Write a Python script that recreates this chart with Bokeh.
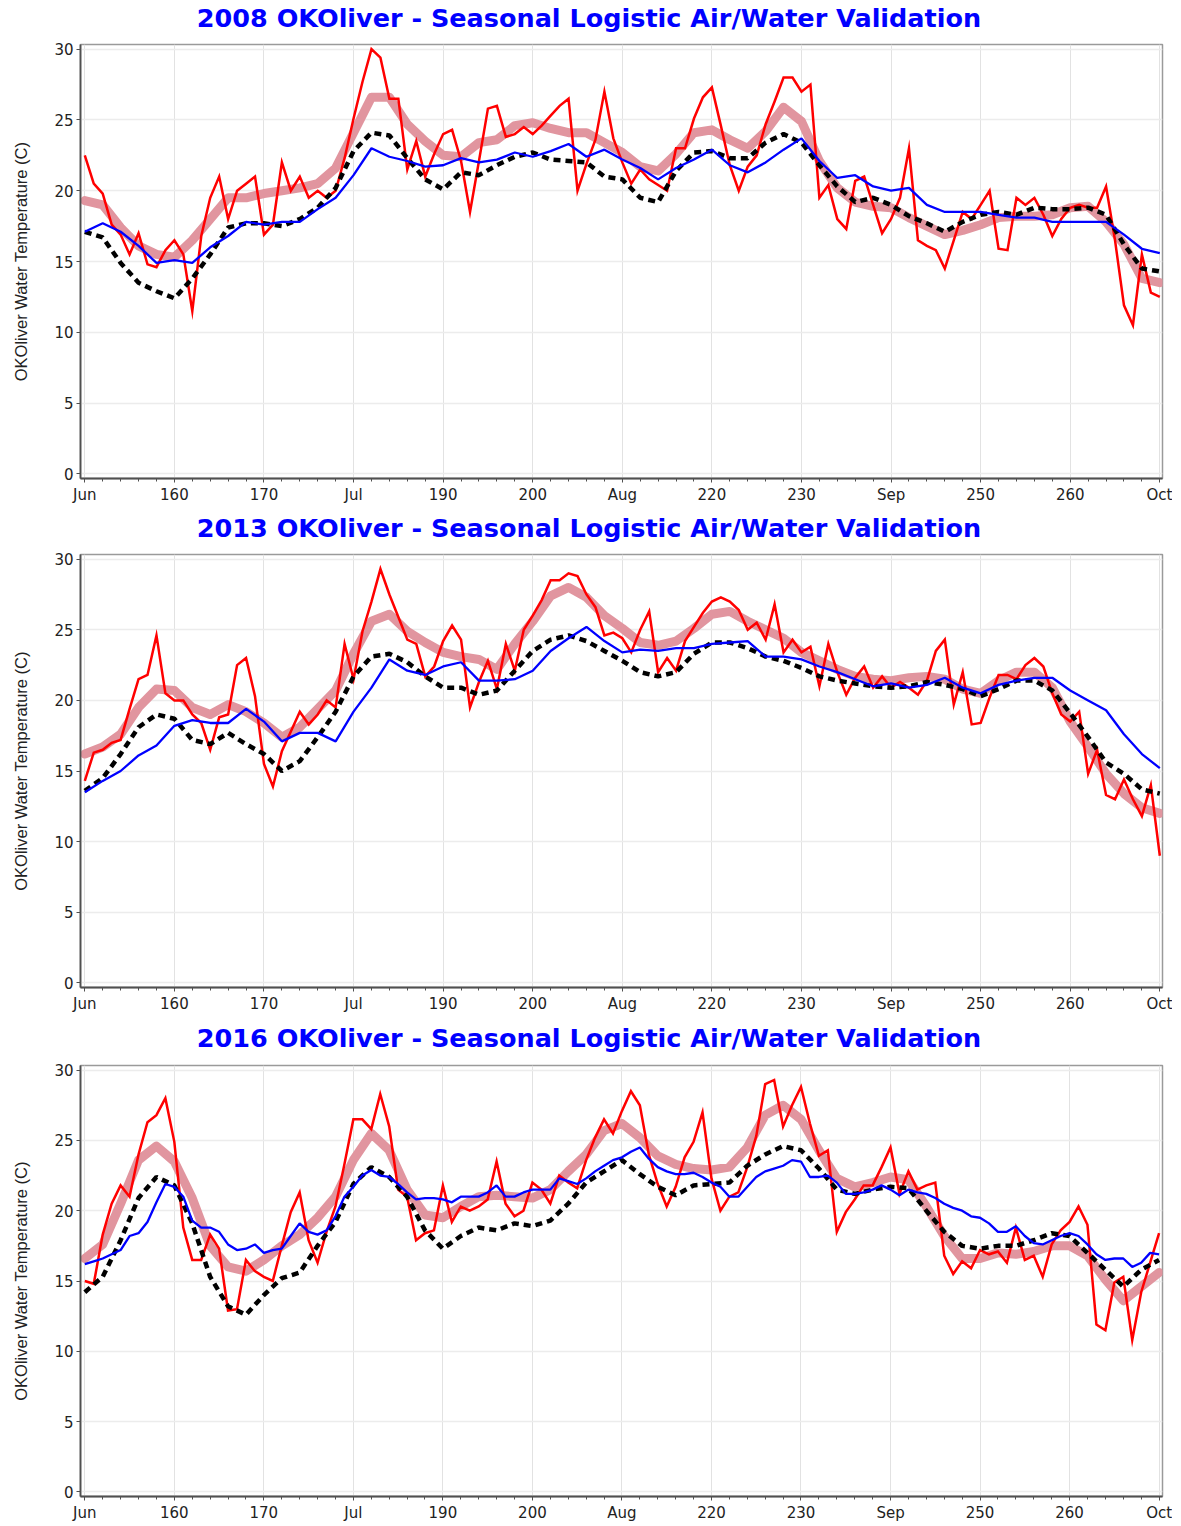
from bokeh.plotting import figure
from bokeh.layouts import column
from bokeh.models import Range1d, FixedTicker, CustomJSTickFormatter, Div
from bokeh.embed import file_html
from bokeh.resources import INLINE

# ---------------- data ----------------
days_daily = list(range(150, 271))
days_step2 = list(range(150, 271, 2))
major_ticks = [150, 160, 170, 180, 190, 200, 210, 220, 230, 240, 250, 260, 270]
minor_ticks = list(range(150, 271, 2))
month_labels = {150: "Jun", 180: "Jul", 210: "Aug", 240: "Sep", 270: "Oct"}
y_ticks = [0, 5, 10, 15, 20, 25, 30]

titles = ["2008 OKOliver - Seasonal Logistic Air/Water Validation",
          "2013 OKOliver - Seasonal Logistic Air/Water Validation",
          "2016 OKOliver - Seasonal Logistic Air/Water Validation"]

air_2008 = [22.5, 20.5, 19.8, 17.6, 16.9, 15.5, 17.0, 14.8, 14.6, 15.8,
            16.5, 15.5, 11.5, 16.8, 19.5, 21.0, 18.0, 20.0, 20.5, 21.0,
            16.9, 17.6, 22.0, 20.0, 21.0, 19.5, 20.0, 19.5, 20.0, 22.3,
            25.1, 27.7, 30.0, 29.4, 26.5, 26.5, 21.5, 23.5, 21.0, 22.6,
            24.0, 24.3, 22.1, 18.5, 22.1, 25.8, 26.0, 23.8, 24.0, 24.5,
            24.0, 24.6, 25.3, 26.0, 26.5, 20.0, 21.9, 23.6, 27.0, 23.7,
            22.0, 20.5, 21.5, 20.8, 20.4, 20.0, 23.0, 23.0, 25.1, 26.6,
            27.3, 24.6, 21.8, 20.0, 21.7, 22.5, 24.7, 26.3, 28.0, 28.0,
            27.0, 27.5, 19.5, 20.4, 18.0, 17.3, 20.7, 21.0, 19.0, 17.0,
            18.0, 19.5, 23.0, 16.5, 16.1, 15.8, 14.5, 16.5, 18.5, 18.0,
            19.0, 20.0, 15.9, 15.8, 19.5, 19.0, 19.5, 18.3, 16.8, 18.0,
            18.8, 19.0, 18.8, 18.8, 20.3, 16.5, 11.9, 10.5, 15.5, 12.8, 12.5]
airsmooth_2008 = [19.3, 19.0, 17.4, 16.1, 15.5, 15.3, 16.5, 18.0, 19.5, 19.5,
                  19.8, 20.0, 20.2, 20.5, 21.6, 24.1, 26.6, 26.6, 24.7, 23.5,
                  22.5, 22.4, 23.4, 23.6, 24.6, 24.8, 24.4, 24.1, 24.1, 23.4,
                  22.7, 21.7, 21.4, 22.6, 24.1, 24.3, 23.6, 23.0, 24.2, 25.9,
                  24.9, 22.1, 20.2, 19.2, 18.9, 18.8, 18.1, 17.5, 16.9, 17.2,
                  17.6, 18.1, 18.2, 18.2, 18.3, 18.8, 18.9, 17.8, 16.2, 13.8, 13.5]
model_2008 = [17.1, 16.7, 14.9, 13.5, 12.9, 12.4, 13.8, 15.5, 17.4, 17.7,
              17.7, 17.5, 18.0, 18.8, 20.2, 22.8, 24.1, 23.9, 22.3, 20.8,
              20.1, 21.3, 21.1, 21.8, 22.4, 22.7, 22.2, 22.1, 22.0, 21.0,
              20.8, 19.5, 19.2, 21.4, 22.7, 22.8, 22.3, 22.3, 23.4, 24.0,
              23.4, 21.8, 20.3, 19.2, 19.5, 19.0, 18.2, 17.7, 17.1, 17.8,
              18.3, 18.5, 18.3, 18.8, 18.7, 18.7, 18.8, 18.3, 16.2, 14.5, 14.3]
water_2008 = [17.1, 17.7, 17.1, 16.1, 14.9, 15.1, 14.9, 16.0, 16.8, 17.8,
              17.6, 17.8, 17.8, 18.7, 19.5, 21.1, 23.0, 22.4, 22.1, 21.7,
              21.8, 22.3, 22.0, 22.2, 22.7, 22.4, 22.8, 23.3, 22.4, 22.9,
              22.2, 21.6, 20.8, 21.6, 22.2, 22.9, 21.8, 21.3, 22.0, 22.9,
              23.7, 22.1, 20.9, 21.1, 20.3, 20.0, 20.2, 19.0, 18.5, 18.5,
              18.5, 18.3, 18.1, 18.1, 17.8, 17.8, 17.8, 17.8, 16.9, 15.9, 15.6]

air_2013 = [14.3, 16.3, 16.5, 17.0, 17.2, 19.4, 21.5, 21.8, 24.6, 20.5,
            20.0, 20.0, 19.0, 18.4, 16.5, 18.8, 19.0, 22.5, 23.0, 20.3,
            15.5, 13.9, 16.4, 17.8, 19.2, 18.3, 19.0, 20.0, 19.5, 24.0,
            21.5, 24.9, 27.0, 29.3, 27.5, 25.9, 24.3, 24.0, 21.7, 22.4,
            24.2, 25.3, 24.3, 19.5, 21.3, 22.8, 20.8, 24.0, 22.1, 25.0,
            26.0, 27.1, 28.5, 28.5, 29.0, 28.8, 27.5, 26.6, 24.6, 24.8,
            24.4, 23.4, 25.0, 26.3, 22.0, 23.0, 22.1, 24.2, 25.2, 26.2,
            27.0, 27.3, 27.0, 26.4, 25.0, 25.5, 24.3, 26.8, 23.4, 24.3,
            23.4, 23.8, 21.0, 24.0, 22.0, 20.4, 21.6, 22.4, 20.9, 21.7,
            20.9, 21.3, 20.9, 20.4, 21.4, 23.5, 24.3, 19.7, 22.0, 18.3,
            18.4, 20.2, 21.8, 21.8, 21.5, 22.5, 23.0, 22.4, 20.5, 19.0,
            18.5, 19.2, 14.8, 16.5, 13.3, 13.0, 14.4, 13.0, 11.8, 14.0, 9.0]
airsmooth_2013 = [16.2, 16.7, 17.6, 19.5, 20.8, 20.7, 19.5, 19.0, 19.7, 19.2,
                  18.4, 17.4, 18.1, 19.4, 20.7, 23.3, 25.6, 26.1, 24.9, 24.1,
                  23.4, 23.1, 22.9, 22.2, 24.0, 25.6, 27.4, 28.0, 27.3, 26.0,
                  25.1, 24.1, 23.9, 24.2, 25.1, 26.1, 26.3, 25.6, 25.0, 24.4,
                  23.4, 22.8, 22.2, 21.7, 21.5, 21.4, 21.6, 21.7, 21.5, 20.8,
                  20.5, 21.4, 22.0, 22.0, 20.9, 18.5, 16.7, 14.8, 13.4, 12.4, 12.0]
model_2013 = [13.6, 14.5, 16.2, 18.1, 19.0, 18.7, 17.2, 16.9, 17.7, 16.9,
              16.2, 15.0, 15.7, 17.4, 19.2, 21.7, 23.1, 23.3, 22.7, 21.7,
              20.9, 20.9, 20.4, 20.7, 22.1, 23.5, 24.3, 24.6, 24.2, 23.5,
              22.8, 22.0, 21.7, 22.0, 23.3, 24.1, 24.1, 23.7, 23.1, 22.8,
              22.3, 21.7, 21.4, 21.2, 21.0, 20.9, 21.0, 21.3, 21.1, 20.8,
              20.3, 20.8, 21.4, 21.4, 20.7, 19.1, 17.4, 15.6, 14.8, 13.7, 13.4]
water_2013 = [13.5, 14.3, 15.0, 16.1, 16.8, 18.2, 18.6, 18.4, 18.4, 19.4,
              18.5, 17.1, 17.7, 17.7, 17.1, 19.2, 20.9, 22.9, 22.1, 21.8,
              22.4, 22.7, 21.4, 21.4, 21.5, 22.1, 23.5, 24.4, 25.2, 24.2,
              23.4, 23.6, 23.5, 23.7, 23.7, 24.0, 24.1, 24.2, 23.1, 23.1,
              22.9, 22.4, 22.0, 21.5, 21.0, 21.2, 20.9, 21.1, 21.6, 20.9,
              20.5, 21.1, 21.4, 21.6, 21.6, 20.7, 20.0, 19.3, 17.6, 16.2, 15.2]

air_2016 = [15.0, 14.8, 18.3, 20.5, 21.8, 21.0, 24.0, 26.3, 26.8, 28.0,
            24.9, 18.8, 16.5, 16.5, 18.3, 17.3, 12.9, 13.0, 16.5, 15.7,
            15.3, 15.0, 17.5, 19.9, 21.3, 17.9, 16.3, 18.5, 20.3, 23.3,
            26.5, 26.5, 25.8, 28.3, 26.0, 21.5, 21.0, 17.9, 18.4, 18.6,
            21.8, 19.2, 20.3, 20.0, 20.3, 20.8, 23.5, 20.5, 19.6, 20.0,
            22.0, 21.5, 20.5, 22.5, 22.0, 21.6, 23.6, 25.2, 26.5, 25.5,
            27.1, 28.5, 27.5, 24.0, 21.9, 20.3, 21.7, 23.8, 24.9, 27.0,
            22.3, 20.0, 21.0, 21.3, 23.1, 25.3, 29.0, 29.3, 26.0, 27.5,
            28.8, 26.2, 23.9, 24.3, 18.5, 19.9, 20.8, 21.8, 21.8, 23.1,
            24.5, 21.2, 22.8, 21.5, 21.8, 22.0, 16.8, 15.5, 16.4, 15.9,
            17.2, 16.9, 17.1, 16.3, 18.8, 16.5, 16.8, 15.3, 17.6, 18.6,
            19.2, 20.3, 19.0, 11.9, 11.5, 14.9, 15.3, 10.8, 14.2, 16.3, 18.4]
airsmooth_2016 = [16.6, 17.6, 20.5, 23.6, 24.6, 23.5, 20.9, 17.5, 16.0, 15.7,
                  16.5, 17.5, 18.3, 19.5, 21.0, 23.6, 25.5, 24.3, 21.5, 19.7,
                  19.5, 20.3, 21.0, 21.1, 21.0, 20.9, 21.5, 22.8, 24.0, 25.7,
                  26.2, 25.2, 23.9, 23.3, 23.0, 22.9, 23.1, 24.5, 26.8, 27.5,
                  26.5, 24.3, 22.3, 21.7, 22.0, 22.4, 22.2, 20.3, 18.2, 16.6,
                  16.6, 17.0, 16.9, 17.1, 17.5, 17.5, 16.8, 15.1, 13.6, 14.6, 15.6]
model_2016 = [14.2, 15.3, 17.9, 20.9, 22.4, 21.8, 19.1, 15.3, 13.2, 12.6,
              14.0, 15.2, 15.6, 17.5, 19.2, 21.9, 23.1, 22.4, 21.0, 18.6,
              17.3, 18.2, 18.8, 18.6, 19.1, 18.9, 19.3, 20.5, 22.0, 22.8,
              23.6, 22.6, 21.7, 21.1, 21.8, 21.9, 22.0, 23.2, 24.0, 24.6,
              24.3, 23.0, 21.5, 21.2, 21.5, 21.7, 21.6, 20.0, 18.5, 17.5,
              17.3, 17.5, 17.5, 17.9, 18.4, 18.2, 17.0, 15.8, 14.6, 15.8, 16.5]
water_2016 = [16.2, 16.4, 16.6, 16.9, 17.2, 18.2, 18.4, 19.2, 20.6, 21.9,
              21.7, 21.0, 19.3, 18.8, 18.8, 18.5, 17.6, 17.2, 17.3, 17.6,
              17.0, 17.2, 17.3, 18.2, 19.1, 18.5, 18.3, 18.6, 19.6, 21.0,
              21.7, 22.5, 22.9, 22.5, 22.4, 21.9, 21.3, 20.8, 20.9, 20.9,
              20.8, 20.6, 21.0, 21.0, 21.0, 21.3, 21.8, 21.0, 21.0, 21.3,
              21.5, 21.5, 21.5, 22.3, 22.1, 21.9, 22.3, 22.8, 23.2, 23.6,
              23.8, 24.2, 24.5, 23.7, 23.1, 22.8, 22.6, 22.6, 22.7, 22.4,
              22.0, 21.7, 21.0, 21.0, 21.7, 22.4, 22.8, 23.0, 23.2, 23.6,
              23.5, 22.4, 22.4, 22.5, 22.0, 21.2, 21.2, 21.3, 21.5, 21.8,
              21.5, 21.1, 21.5, 21.3, 21.2, 20.9, 20.5, 20.2, 20.0, 19.6,
              19.5, 19.1, 18.5, 18.5, 18.9, 18.2, 17.7, 17.6, 17.9, 18.2,
              18.4, 18.2, 17.6, 16.9, 16.5, 16.6, 16.6, 16.0, 16.3, 17.0, 16.9]

panels = [
    (titles[0], air_2008, airsmooth_2008, model_2008, water_2008, days_step2),
    (titles[1], air_2013, airsmooth_2013, model_2013, water_2013, days_step2),
    (titles[2], air_2016, airsmooth_2016, model_2016, water_2016, days_daily),
]

# ---------------- styling ----------------
TITLE_BLUE = "#0000ff"
RED = "#ff0000"
PINK = "#e1959f"
BLUE = "#0000ff"
FIG_W = 1172
TITLE_H = 36

label_js = ("const m = {150:'Jun',180:'Jul',210:'Aug',240:'Sep',270:'Oct'};"
            " return (tick in m) ? m[tick] : tick.toFixed(0);")

specs = [
    dict(height=474, x_end=270.3, mbr=10, mbt=8, mbb=32),
    dict(height=474, x_end=270.3, mbr=10, mbt=8, mbb=33),
    dict(height=468, x_end=270.38, mbr=5, mbt=9, mbb=25),
]

items = []
for (title, air, airs, model, water, wdays), sp in zip(panels, specs):
    head = Div(text=title, width=FIG_W, height=TITLE_H, margin=(0, 0, 0, 0),
               styles={"font-family": "DejaVu Sans", "font-weight": "bold",
                       "font-size": "25.5px", "line-height": "36px",
                       "color": TITLE_BLUE, "text-align": "center",
                       "padding-left": "6px", "white-space": "nowrap",
                       "width": "%dpx" % FIG_W})

    p = figure(width=FIG_W, height=sp["height"], output_backend="svg", toolbar_location=None,
               x_range=Range1d(149.52, sp["x_end"]), y_range=Range1d(-0.33, 30.33),
               min_border_left=80, min_border_right=sp["mbr"], min_border_top=sp["mbt"],
               min_border_bottom=sp["mbb"])

    p.line(days_step2, airs, line_color=PINK, line_width=9, line_join="round", line_cap="round")
    p.line(days_daily, air, line_color=RED, line_width=2.5, line_join="miter")
    p.line(days_step2, model, line_color="black", line_width=4.5, line_dash="7 5")
    p.line(wdays, water, line_color=BLUE, line_width=2.3)

    p.xaxis.ticker = FixedTicker(ticks=major_ticks, minor_ticks=minor_ticks)
    p.xaxis.formatter = CustomJSTickFormatter(code=label_js)
    p.yaxis.ticker = FixedTicker(ticks=y_ticks, minor_ticks=[])
    p.xgrid.ticker = FixedTicker(ticks=major_ticks)
    p.ygrid.ticker = FixedTicker(ticks=y_ticks)
    p.xgrid.grid_line_color = "#e2e2e2"
    p.ygrid.grid_line_color = "#ececec"
    p.ygrid.grid_line_width = 1.5

    for ax in (p.xaxis[0], p.yaxis[0]):
        ax.axis_line_color = "#505050"
        ax.axis_line_width = 1.8
        ax.major_tick_line_color = "#505050"
        ax.major_tick_in = 0
        ax.major_tick_out = 4
        ax.minor_tick_in = 0
        ax.minor_tick_out = 3
        ax.minor_tick_line_color = "#505050"
        ax.major_label_text_font = "DejaVu Sans"
        ax.major_label_text_font_size = "15px"
        ax.major_label_text_color = "#222222"
        ax.major_label_standoff = 3
    p.yaxis.minor_tick_line_color = None
    p.yaxis.axis_label = "OKOliver Water Temperature (C)"
    p.yaxis.axis_label_text_font = "Liberation Sans"
    p.yaxis.axis_label_text_font_style = "normal"
    p.yaxis.axis_label_text_font_size = "16.5px"
    p.yaxis.axis_label_text_color = "#222222"
    p.yaxis.axis_label_standoff = 21
    p.outline_line_color = "#9a9a9a"
    p.outline_line_width = 1.5
    p.background_fill_color = "white"
    p.border_fill_color = "white"
    items.extend([head, p])

layout = column(*items, spacing=0)
open("out.html", "w").write(file_html(layout, INLINE))
